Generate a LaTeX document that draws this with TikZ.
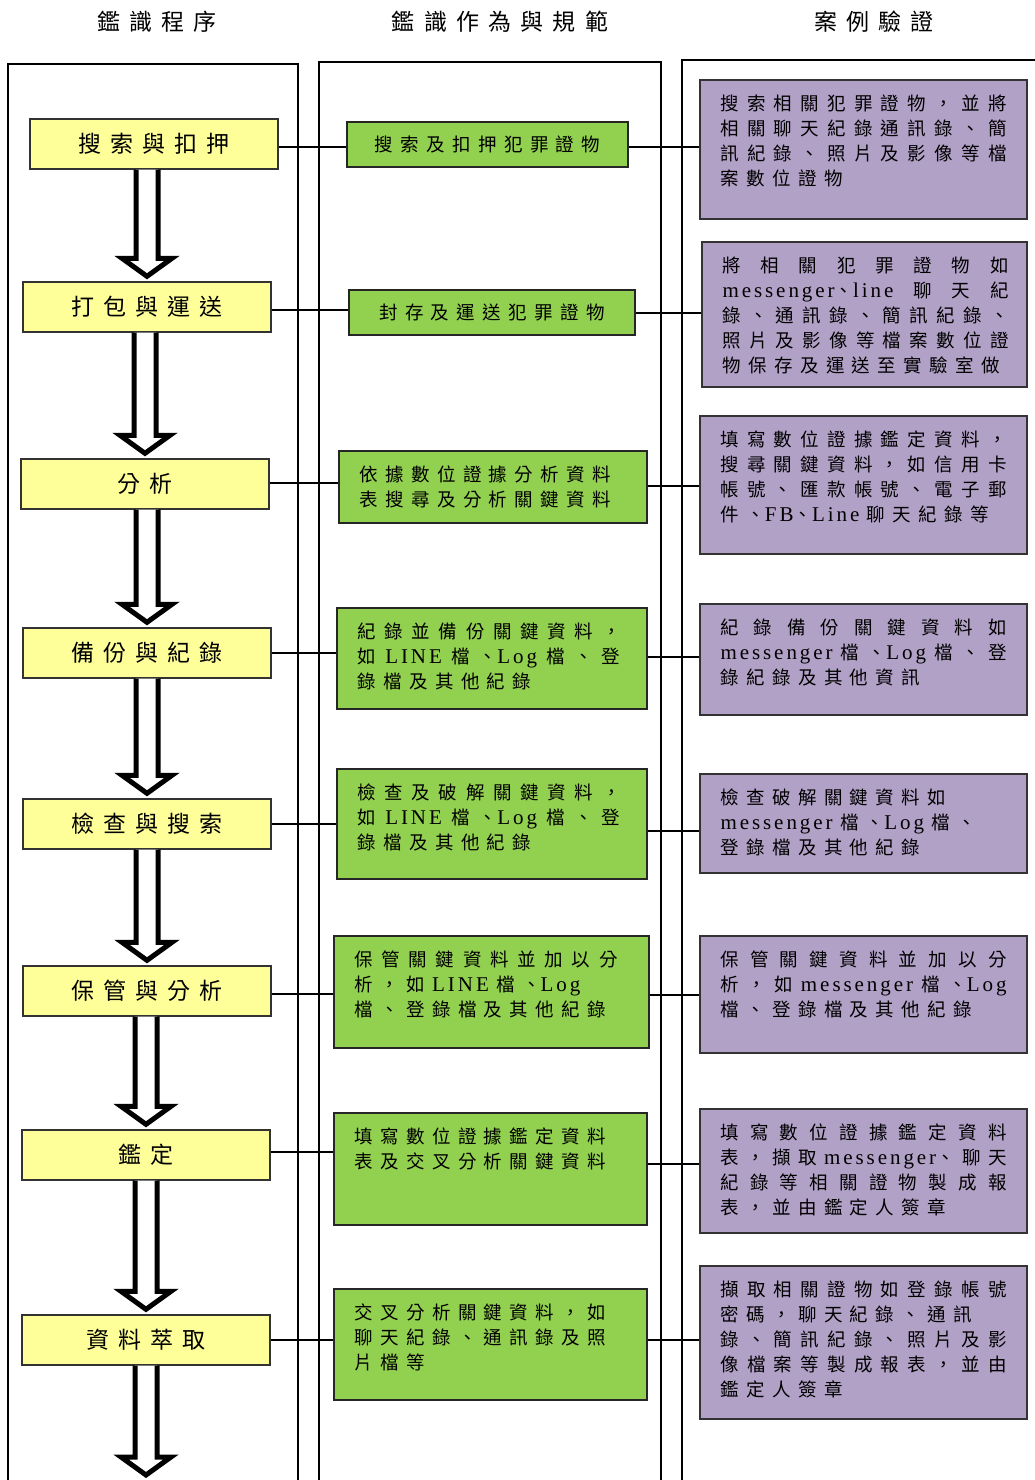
\documentclass[tikz,border=0pt]{standalone}
\usepackage{fontspec}
\setmainfont{Noto Sans CJK TC}
\newfontfamily\enfont[LetterSpace=14]{Liberation Serif}
\newcommand\entxt[1]{{\enfont\fontsize{21}{25}\selectfont #1}}
\usetikzlibrary{calc,fit}

% character classes for CJK ideographs and closing punctuation
\chardef\CJKideo=201
\chardef\CJKclose=202
\newcount\cjkcode
\cjkcode="4E00
\loop
  \XeTeXcharclass\cjkcode=\CJKideo
  \advance\cjkcode by 1
\ifnum\cjkcode<"A000 \repeat
\XeTeXcharclass"3001=\CJKclose
\XeTeXcharclass"3002=\CJKclose
\XeTeXcharclass"FF0C=\CJKclose

% spacing and break points between CJK characters
\XeTeXinterchartokenstate=1
\newcommand\cjkgap{\hskip 0.4em plus 1em minus 0.15em\relax}
\XeTeXinterchartoks \CJKideo \CJKideo = {\cjkgap}
\XeTeXinterchartoks \CJKideo \CJKclose = {\nobreak\cjkgap}
\XeTeXinterchartoks \CJKclose \CJKideo = {\cjkgap}
\XeTeXinterchartoks \CJKclose \CJKclose = {\nobreak\cjkgap}
% word space between CJK and Latin runs
\newcommand\wsp{\hskip 0.4em plus 1em minus 0.15em\relax}

\definecolor{yfill}{RGB}{255,255,153}
\definecolor{gfill}{RGB}{146,208,80}
\definecolor{pfill}{RGB}{178,161,199}

\tikzset{
  frame/.style={draw=black, line width=1.6pt},
  link/.style={draw=black, line width=1.8pt},
  ybox/.style={draw=black!80, line width=1.4pt, fill=yfill, inner sep=0pt},
  gbox/.style={draw=black!85, line width=1.4pt, fill=gfill, inner sep=0pt},
  pbox/.style={draw=black!80, line width=1.4pt, fill=pfill, inner sep=0pt},
  headtext/.style={inner sep=0pt, font=\fontsize{23}{28}\selectfont},
  ytext/.style={inner sep=0pt, font=\fontsize{23}{28}\selectfont},
  gcenter/.style={inner sep=0pt, font=\fontsize{18.5}{25}\selectfont},
  gtext/.style={anchor=north west, inner xsep=21pt, inner ysep=15pt,
    text width=263pt, align=justify, font=\fontsize{18.5}{25}\selectfont},
  ptext/.style={anchor=north west, inner xsep=21pt, inner ysep=15pt,
    text width=286pt, align=justify, font=\fontsize{18.5}{25}\selectfont},
  blockarrow/.style={draw=black, line width=5pt, fill=white,
    line join=miter, miter limit=10}
}

% hollow block arrow from the bottom of box #1 down to point #2
\newcommand\flowarrow[2]{%
  \coordinate (#1-top) at (#1.south -| #2);
  \draw[blockarrow] ($(#1-top)+(-11,0)$) -- ($(#2)+(-11,-23)$)
    -- ($(#2)+(-25,-23)$) -- ($(#2)+(0,-5)$) -- ($(#2)+(25,-23)$)
    -- ($(#2)+(11,-23)$) -- ($(#1-top)+(11,0)$);
}

\begin{document}
\begin{tikzpicture}[x=1pt,y=-1pt]
\useasboundingbox (0,0) rectangle (1035,1480);
\fill[white] (0,0) rectangle (1035,1480);

% column headings
\node[headtext] (h1) at (157,22) {鑑識程序};
\node[headtext] (h2) at (500,22) {鑑識作為與規範};
\node[headtext] (h3) at (874,22) {案例驗證};

% column frames
\draw[frame] (8,1480) -- (8,64) -- (298,64) -- (298,1480);
\draw[frame] (319,1480) -- (319,62) -- (661,62) -- (661,1480);
\draw[frame] (682,1480) -- (682,60) -- (1035,60);

% procedure steps
\node[ybox, fit={(30,119)(278,169)}] (y1) {};
\node[ybox, fit={(23,282)(271,332)}] (y2) {};
\node[ybox, fit={(21,459)(269,509)}] (y3) {};
\node[ybox, fit={(23,628)(271,678)}] (y4) {};
\node[ybox, fit={(23,799)(271,849)}] (y5) {};
\node[ybox, fit={(23,966)(271,1016)}] (y6) {};
\node[ybox, fit={(22,1130)(270,1180)}] (y7) {};
\node[ybox, fit={(22,1315)(270,1365)}] (y8) {};
\node[ytext] (y1t) at (y1) {搜索與扣押};
\node[ytext] (y2t) at (y2) {打包與運送};
\node[ytext] (y3t) at (y3) {分析};
\node[ytext] (y4t) at (y4) {備份與紀錄};
\node[ytext] (y5t) at (y5) {檢查與搜索};
\node[ytext] (y6t) at (y6) {保管與分析};
\node[ytext] (y7t) at (y7) {鑑定};
\node[ytext] (y8t) at (y8) {資料萃取};

% actions and norms
\node[gbox, fit={(347,122)(628,167)}] (g1) {};
\node[gbox, fit={(349,290)(635,335)}] (g2) {};
\node[gbox, fit={(339,451)(647,523)}] (g3) {};
\node[gbox, fit={(337,608)(647,709)}] (g4) {};
\node[gbox, fit={(337,769)(647,879)}] (g5) {};
\node[gbox, fit={(334,936)(649,1048)}] (g6) {};
\node[gbox, fit={(334,1113)(647,1225)}] (g7) {};
\node[gbox, fit={(334,1289)(647,1400)}] (g8) {};
\node[gcenter] (g1t) at (g1) {搜索及扣押犯罪證物};
\node[gcenter] (g2t) at (g2) {封存及運送犯罪證物};
\node[gtext] (g3t) at (g3.north west) {依據數位證據分析資料\newline 表搜尋及分析關鍵資料};
\node[gtext] (g4t) at (g4.north west) {紀錄並備份關鍵資料，\linebreak 如\wsp\entxt{LINE}\wsp 檔、\entxt{Log}\wsp 檔、登\linebreak 錄檔及其他紀錄};
\node[gtext] (g5t) at (g5.north west) {檢查及破解關鍵資料，\linebreak 如\wsp\entxt{LINE}\wsp 檔、\entxt{Log}\wsp 檔、登\linebreak 錄檔及其他紀錄};
\node[gtext] (g6t) at (g6.north west) {保管關鍵資料並加以分\linebreak 析，如\wsp\entxt{LINE}\wsp 檔、\entxt{Log}\newline 檔、登錄檔及其他紀錄};
\node[gtext] (g7t) at (g7.north west) {填寫數位證據鑑定資料\newline 表及交叉分析關鍵資料};
\node[gtext] (g8t) at (g8.north west) {交叉分析關鍵資料，如\newline 聊天紀錄、通訊錄及照\newline 片檔等};

% case verification
\node[pbox, fit={(700,80)(1027,219)}] (p1) {};
\node[pbox, fit={(702,242)(1027,387)}] (p2) {};
\node[pbox, fit={(700,416)(1027,554)}] (p3) {};
\node[pbox, fit={(700,604)(1027,715)}] (p4) {};
\node[pbox, fit={(700,774)(1027,873)}] (p5) {};
\node[pbox, fit={(700,936)(1027,1053)}] (p6) {};
\node[pbox, fit={(700,1109)(1027,1233)}] (p7) {};
\node[pbox, fit={(700,1266)(1027,1419)}] (p8) {};
\node[ptext] (p1t) at (p1.north west) {搜索相關犯罪證物，並將\linebreak 相關聊天紀錄通訊錄、簡\linebreak 訊紀錄、照片及影像等檔\linebreak 案數位證物};
\node[ptext] (p2t) at (p2.north west) {將相關犯罪證物如\linebreak \entxt{messenger}、\entxt{line}\wsp 聊天紀\linebreak 錄、通訊錄、簡訊紀錄、\linebreak 照片及影像等檔案數位證\linebreak 物保存及運送至實驗室做};
\node[ptext] (p3t) at (p3.north west) {填寫數位證據鑑定資料，\linebreak 搜尋關鍵資料，如信用卡\linebreak 帳號、匯款帳號、電子郵\linebreak 件、\entxt{FB}、\entxt{Line}\wsp 聊天紀錄等};
\node[ptext] (p4t) at (p4.north west) {紀錄備份關鍵資料如\linebreak \entxt{messenger}\wsp 檔、\entxt{Log}\wsp 檔、登\linebreak 錄紀錄及其他資訊};
\node[ptext] (p5t) at (p5.north west) {檢查破解關鍵資料如\newline \entxt{messenger}\wsp 檔、\entxt{Log}\wsp 檔、\newline 登錄檔及其他紀錄};
\node[ptext] (p6t) at (p6.north west) {保管關鍵資料並加以分\linebreak 析，如\wsp\entxt{messenger}\wsp 檔、\entxt{Log}\linebreak 檔、登錄檔及其他紀錄};
\node[ptext] (p7t) at (p7.north west) {填寫數位證據鑑定資料\linebreak 表，擷取\wsp\entxt{messenger}、聊天\linebreak 紀錄等相關證物製成報\linebreak 表，並由鑑定人簽章};
\node[ptext] (p8t) at (p8.north west) {擷取相關證物如登錄帳號\linebreak 密碼，聊天紀錄、通訊\newline 錄、簡訊紀錄、照片及影\linebreak 像檔案等製成報表，並由\linebreak 鑑定人簽章};

% flow arrows between the procedure steps
\flowarrow{y1}{y2.north}
\flowarrow{y2}{y3.north}
\flowarrow{y3}{y4.north}
\flowarrow{y4}{y5.north}
\flowarrow{y5}{y6.north}
\flowarrow{y6}{y7.north}
\flowarrow{y7}{y8.north}
\coordinate (flowend) at (146,1480);
\flowarrow{y8}{flowend}

% row connectors (vertical offsets in canvas points)
\foreach \i/\dl/\dr in {1/-3/-2.5, 2/-3/-0.5, 3/1/1, 4/0/1.5,
                        5/0/-7, 6/-3/-3, 7/3/5, 8/0/4.5} {
  \draw[link] ([yshift=\dl pt]y\i.east) -- ([yshift=\dl pt]y\i.east -| g\i.west);
  \draw[link] ([yshift=\dr pt]g\i.east) -- ([yshift=\dr pt]g\i.east -| p\i.west);
}
\end{tikzpicture}
\end{document}
